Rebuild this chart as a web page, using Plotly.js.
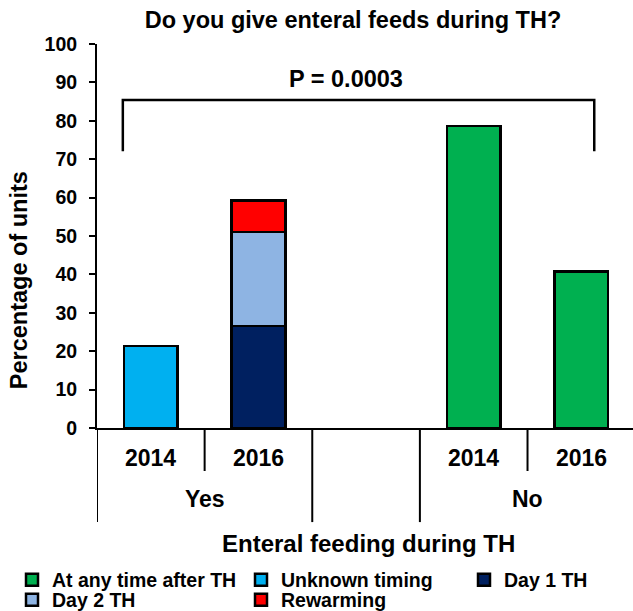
<!DOCTYPE html>
<html>
<head>
<meta charset="utf-8">
<script src="https://cdn.plot.ly/plotly-3.0.1.min.js"></script>
<style>html,body{margin:0;padding:0;background:#fff;}#chart{width:633px;height:611px;}</style>
</head>
<body>
<div id="chart"></div>
<script>
// Category positions: 0 = Yes 2014, 1 = Yes 2016, 2 = gap, 3 = No 2014, 4 = No 2016
var yearLabels = ["2014", "2016", "2014", "2016"];
var yearPos = [0, 1, 3, 4];
var groupLabels = ["Yes", "No"];
var groupPos = [0.5, 3.5];

var seriesNames = ["At any time after TH", "Unknown timing", "Day 1 TH", "Day 2 TH", "Rewarming"];
var seriesColors = ["#00B050", "#00B0F0", "#002060", "#8EB4E3", "#FF0000"];
var anyTimeX = [3, 4];
var anyTimeY = [78.7, 40.7];
var unknownX = [0];
var unknownY = [21.4];
var day1X = [1];
var day1Y = [26.6];
var day2X = [1];
var day2Y = [24.4];
var rewarmX = [1];
var rewarmY = [8.2];

var pText = "P = 0.0003";

var font = "Liberation Sans, Arial, sans-serif";
var legendIds = ["legend", "legend2", "legend3", "legend4", "legend5"];
function barTrace(i, x, y) {
  return {
    type: "bar", name: seriesNames[i], x: x, y: y, width: 0.5, legend: legendIds[i],
    marker: {color: seriesColors[i], line: {color: "#000", width: 2.5}},
    hoverinfo: "skip"
  };
}
var data = [
  barTrace(0, anyTimeX, anyTimeY),
  barTrace(1, unknownX, unknownY),
  barTrace(2, day1X, day1Y),
  barTrace(3, day2X, day2Y),
  barTrace(4, rewarmX, rewarmY)
];

var shapes = [];
// category dividers below the axis
var divX = [-0.5, 0.5, 1.5, 2.5, 3.5];
var divLen = [-0.245, -0.112, -0.245, -0.245, -0.112];
for (var i = 0; i < divX.length; i++) {
  shapes.push({type: "line", xref: "x", yref: "paper", x0: divX[i], x1: divX[i], y0: 0, y1: divLen[i],
    line: {color: "#000", width: 2}});
}
// significance bracket
shapes.push({type: "path", xref: "x", yref: "y",
  path: "M-0.26,72.1 L-0.26,85.4 L4.12,85.4 L4.12,72.1",
  line: {color: "#000", width: 2.5}});

var annotations = [];
for (var j = 0; j < yearLabels.length; j++) {
  annotations.push({xref: "x", yref: "paper", x: yearPos[j], y: -0.077, text: "<b>" + yearLabels[j] + "</b>",
    showarrow: false, font: {family: font, size: 23, color: "#000"}, yanchor: "middle"});
}
for (var k = 0; k < groupLabels.length; k++) {
  annotations.push({xref: "x", yref: "paper", x: groupPos[k], y: -0.185, text: "<b>" + groupLabels[k] + "</b>",
    showarrow: false, font: {family: font, size: 23, color: "#000"}, yanchor: "middle"});
}
annotations.push({xref: "x", yref: "paper", x: 2.02, y: -0.3, text: "<b>Enteral feeding during TH</b>",
  showarrow: false, font: {family: font, size: 24, color: "#000"}, yanchor: "middle"});
annotations.push({xref: "paper", yref: "paper", x: -0.1455, y: 0.385, text: "<b>Percentage of units</b>",
  textangle: -90, showarrow: false, font: {family: font, size: 23.5, color: "#000"}, xanchor: "center", yanchor: "middle"});
annotations.push({xref: "x", yref: "y", x: 1.81, y: 91, text: "<b>" + pText + "</b>",
  showarrow: false, font: {family: font, size: 23.5, color: "#000"}, yanchor: "middle"});

// legend entries placed in three columns, two rows
var legCol = [12, 241, 464, 12, 241];
var legRow = [580, 580, 580, 600, 600];

var layout = {
  width: 633, height: 611,
  margin: {l: 97, r: 0, t: 44, b: 183, autoexpand: false},
  paper_bgcolor: "#fff", plot_bgcolor: "#fff",
  font: {family: font, color: "#000"},
  title: {text: "<b>Do you give enteral feeds during TH?</b>", xref: "container", x: 353 / 633, xanchor: "center",
    y: 1 - 20 / 611, yref: "container", yanchor: "middle", font: {family: font, size: 23.5, color: "#000"}},
  barmode: "stack",
  showlegend: true,
  xaxis: {range: [-0.5, 4.48], showgrid: false, zeroline: false, showticklabels: false, ticks: "",
    showline: true, linecolor: "#000", linewidth: 2, fixedrange: true},
  yaxis: {range: [0, 100], dtick: 10, showgrid: false, zeroline: false, showline: true, linecolor: "#000",
    linewidth: 2, ticks: "outside", ticklen: 6, tickwidth: 2, tickcolor: "#000",
    tickfont: {family: font, size: 19.5, color: "#000", weight: "bold"}, ticklabelstandoff: 8},
  shapes: shapes,
  annotations: annotations
};
for (var m = 0; m < legendIds.length; m++) {
  layout[legendIds[m]] = {
    orientation: "v", x: (legCol[m] - 97) / 536, xanchor: "left", y: (428 - legRow[m]) / 384, yanchor: "middle",
    bgcolor: "rgba(0,0,0,0)", borderwidth: 0, itemwidth: 30,
    font: {family: font, size: 19.5, color: "#000", weight: "bold"}
  };
}
Plotly.newPlot("chart", data, layout, {displayModeBar: false, staticPlot: true});
</script>
</body>
</html>
